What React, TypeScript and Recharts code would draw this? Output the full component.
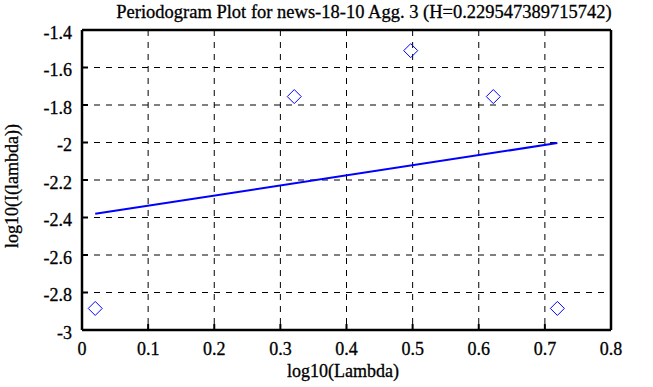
import {
  CartesianGrid,
  ComposedChart,
  Line,
  Scatter,
  XAxis,
  YAxis,
} from "recharts";

const lambdaLog = [0.02, 0.321, 0.4971, 0.622, 0.7189];
const periodogramLog = [-2.885, -1.755, -1.51, -1.755, -2.885];
const fitX = [0.02, 0.7189];
const fitY = [-2.38, -2.003];
const xTicks = [0, 0.1, 0.2, 0.3, 0.4, 0.5, 0.6, 0.7, 0.8];
const yTicks = [-3, -2.8, -2.6, -2.4, -2.2, -2, -1.8, -1.6, -1.4];

const points = lambdaLog.map((x, i) => ({ x, y: periodogramLog[i] }));
const fit = fitX.map((x, i) => ({ x, fit: fitY[i] }));

const font = "'Liberation Serif', 'DejaVu Serif', serif";
const frame = { stroke: "#000", strokeWidth: 2.5 };
const tickMark = { stroke: "#000", strokeWidth: 2 };
// thin outline so the text reads as dark as the aliased original
const ink = { fill: "#000", stroke: "#000", strokeWidth: 0.3 };
const serif = { fontFamily: font };

const fmt = (v: number) => String(Math.round(v * 10) / 10);

function Diamond(props: any) {
  const { cx, cy } = props;
  const r = 7;
  return (
    <path
      d={`M${cx},${cy - r}L${cx + r},${cy}L${cx},${cy + r}L${cx - r},${cy}Z`}
      fill="none"
      stroke="#0000ff"
      strokeWidth={1}
    />
  );
}

function XTick(props: any) {
  const { x, y, payload } = props;
  return (
    <text x={x} y={y + 11} textAnchor="middle" fontSize={18} style={serif} {...ink}>
      {fmt(payload.value)}
    </text>
  );
}

function YTick(props: any) {
  const { x, y, payload } = props;
  return (
    <text x={x} y={y + 8.5} textAnchor="end" fontSize={18} style={serif} {...ink}>
      {fmt(payload.value)}
    </text>
  );
}

export default function App() {
  return (
    <div style={{ position: "absolute", left: 0, top: 0, width: 653, height: 387 }}>
      <ComposedChart
        width={653}
        height={387}
        margin={{ top: 29, right: 41, bottom: 0, left: 0 }}
      >
        <CartesianGrid
          xAxisId="b"
          yAxisId="l"
          stroke="#000"
          strokeDasharray="6 6"
          strokeWidth={1}
        />
        <XAxis
          xAxisId="b"
          type="number"
          dataKey="x"
          domain={[0, 0.8]}
          ticks={xTicks}
          height={57}
          tickSize={-6}
          tickMargin={20}
          tick={<XTick />}
          axisLine={frame}
          tickLine={tickMark}
        />
        <XAxis
          xAxisId="t"
          orientation="top"
          type="number"
          dataKey="x"
          domain={[0, 0.8]}
          ticks={xTicks}
          height={1}
          tickSize={-6}
          tick={false}
          axisLine={frame}
          tickLine={tickMark}
        />
        <YAxis
          yAxisId="l"
          type="number"
          domain={[-3, -1.4]}
          ticks={yTicks}
          width={82}
          tickSize={-6}
          tickMargin={16}
          tick={<YTick />}
          axisLine={frame}
          tickLine={tickMark}
        />
        <YAxis
          yAxisId="r"
          orientation="right"
          type="number"
          domain={[-3, -1.4]}
          ticks={yTicks}
          width={1}
          tickSize={-6}
          tick={false}
          axisLine={frame}
          tickLine={tickMark}
        />
        <Line
          xAxisId="b"
          yAxisId="l"
          data={fit}
          dataKey="fit"
          type="linear"
          stroke="#0000ff"
          strokeWidth={2}
          dot={false}
          isAnimationActive={false}
        />
        <Scatter
          xAxisId="t"
          yAxisId="r"
          data={points}
          dataKey="y"
          shape={<Diamond />}
          isAnimationActive={false}
        />
      </ComposedChart>
      <svg
        width={653}
        height={387}
        style={{ position: "absolute", left: 0, top: 0, pointerEvents: "none", ...serif }}
        fontSize={18.5}
        {...ink}
      >
        <text x={364} y={18} textAnchor="middle">
          Periodogram Plot for news-18-10 Agg. 3 (H=0.229547389715742)
        </text>
        <text x={343} y={377} textAnchor="middle" fontSize={18}>
          log10(Lambda)
        </text>
        <text
          transform="translate(18,186) rotate(-90)"
          textAnchor="middle"
          fontSize={18}
        >
          log10(I(lambda))
        </text>
      </svg>
    </div>
  );
}
